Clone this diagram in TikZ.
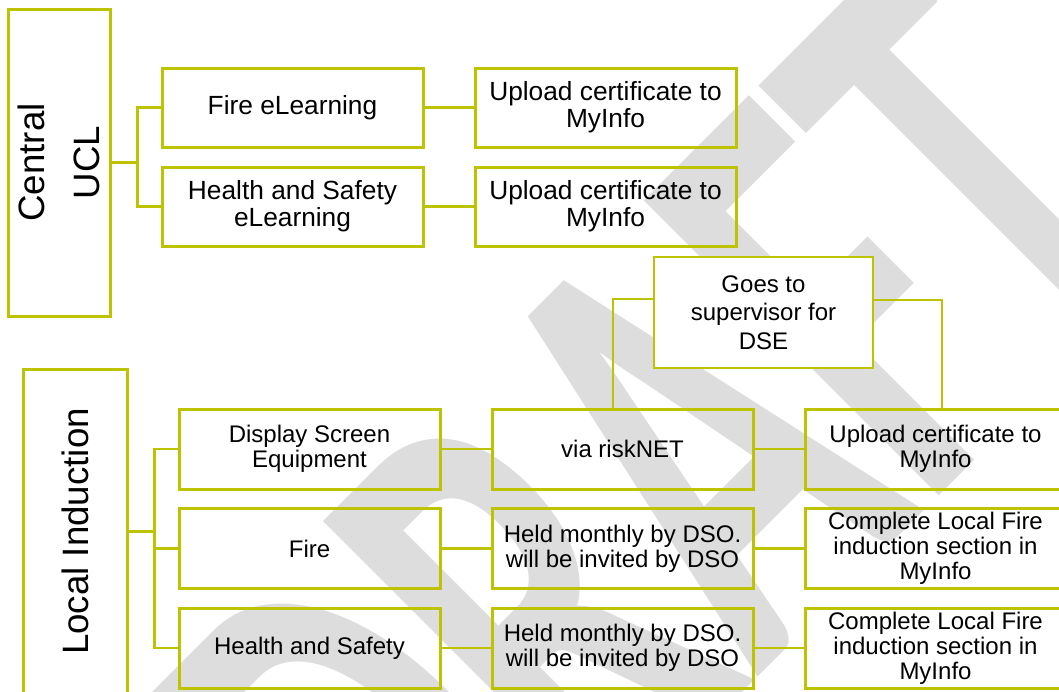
\documentclass[tikz,border=0pt]{standalone}
\usepackage{fontspec}
\setmainfont{Liberation Sans}
\newfontfamily\wmfont{Carlito}
\definecolor{olivebox}{RGB}{189,195,0}
\definecolor{wmgray}{RGB}{221,221,221}
\tikzset{
  box/.style={draw=olivebox, line width=3pt, minimum width=261pt, minimum height=79pt,
    inner sep=2pt, align=center, font=\fontsize{26.3}{27}\selectfont},
  lbox/.style={box, minimum height=80pt, font=\fontsize{24}{25}\selectfont},
  gbox/.style={box, fill=white, line width=2pt, minimum width=219pt, minimum height=111pt,
    font=\fontsize{24}{28.5}\selectfont},
  side/.style={draw=olivebox, line width=3pt, rotate=90, align=center, inner sep=0pt,
    font=\fontsize{36.7}{55}\selectfont},
  conn/.style={draw=olivebox, line width=2.5pt},
  gconn/.style={draw=olivebox, line width=2pt},
}
\begin{document}
\begin{tikzpicture}[x=1pt,y=1pt]
\useasboundingbox (0,0) rectangle (1059,-691);
\fill[white] (0,0) rectangle (1059,-691);
% watermark
\begin{scope}
  \clip (0,0) rectangle (1059,-691);
  \begin{scope}[shift={(428.4,-1006.8)}, rotate=45, yscale=1.65]
    \node[transform shape, anchor=base west, inner sep=0pt, text=wmgray,
      font=\wmfont\bfseries\fontsize{390}{390}\selectfont] (wm) at (0,0) {DRAFT};
  \end{scope}
\end{scope}
% Central UCL
\node[side, minimum width=307pt, minimum height=102pt] (central) at (59,-162.5) {Central\\UCL};
\node[box] (fireel) at (292.5,-107.5) {Fire eLearning};
\node[box] (hsel)   at (292.5,-206.5) {Health and Safety\\eLearning};
\node[box] (up1)    at (605.5,-107.5) {Upload certificate to\\MyInfo};
\node[box] (up2)    at (605.5,-206.5) {Upload certificate to\\MyInfo};
\draw[conn] (central.south) -- ++(26,0) coordinate (cj) |- (fireel.west);
\draw[conn] (cj) |- (hsel.west);
\draw[conn] (fireel) -- (up1);
\draw[conn] (hsel) -- (up2);
% Local induction
\node[side, minimum width=325pt, minimum height=104pt] (local) at (75,-531.5) {Local Induction};
\node[lbox] (dse)   at (309.5,-449)   {Display Screen\\Equipment};
\node[lbox] (fire)  at (309.5,-548.5) {Fire};
\node[lbox] (hs)    at (309.5,-648)   {Health and Safety};
\node[lbox] (risk)  at (622.5,-449)   {via riskNET};
\node[lbox] (held1) at (622.5,-548.5) {Held monthly by DSO.\\will be invited by DSO};
\node[lbox] (held2) at (622.5,-648)   {Held monthly by DSO.\\will be invited by DSO};
\node[lbox] (up3)   at (935.5,-449)   {Upload certificate to\\MyInfo};
\node[lbox] (comp1) at (935.5,-548.5) {Complete Local Fire\\induction section in\\MyInfo};
\node[lbox] (comp2) at (935.5,-648)   {Complete Local Fire\\induction section in\\MyInfo};
\draw[conn] (local.south) -- ++(26,0) coordinate (lj) |- (dse.west);
\draw[conn] (lj) |- (fire.west);
\draw[conn] (lj) |- (hs.west);
\draw[conn] (dse) -- (risk);
\draw[conn] (risk) -- (up3);
\draw[conn] (fire) -- (held1);
\draw[conn] (held1) -- (comp1);
\draw[conn] (hs) -- (held2);
\draw[conn] (held2) -- (comp2);
% supervisor box
\node[gbox] (goes) at (763.5,-312.5) {Goes to\\supervisor for\\DSE};
\draw[gconn] ([xshift=-9.5pt]risk.north) |- ([yshift=13.5pt]goes.west);
\draw[gconn] ([yshift=12.5pt]goes.east) -| ([xshift=6.5pt]up3.north);
\end{tikzpicture}
\end{document}
